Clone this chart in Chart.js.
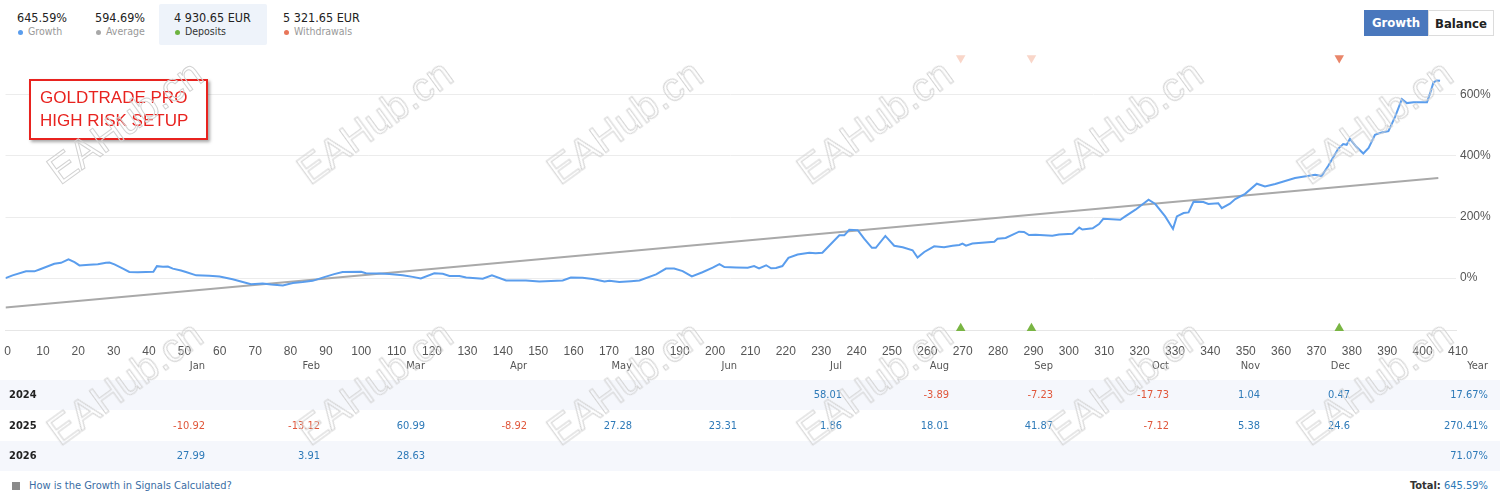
<!DOCTYPE html>
<html>
<head>
<meta charset="utf-8">
<script src="https://cdn.jsdelivr.net/npm/chart.js@4.4.1/dist/chart.umd.min.js"></script>
<style>
  body { margin: 0; background: #fff; width: 1500px; height: 500px; position: relative; overflow: hidden;
         font-family: "DejaVu Sans Condensed", "DejaVu Sans", sans-serif; color: #222; }
  .abs { position: absolute; white-space: nowrap; }
  #chartBox { position: absolute; left: 0; top: 0; width: 1500px; height: 360px; }
  .stat-val { font-size: 12.5px; color: #222; }
  .stat-lbl { font-size: 10.5px; color: #999; }
  .dot { position: absolute; width: 5px; height: 5px; border-radius: 50%; }
  #depBox { left: 159px; top: 4px; width: 108px; height: 41px; background: #eef3fa; border-radius: 2px; }
  .btn { position: absolute; top: 10px; height: 26px; line-height: 26px; text-align: center; font-size: 13px; font-weight: bold; box-sizing: border-box; }
  #tag { left: 29px; top: 79px; width: 179px; height: 61px; box-sizing: border-box; border: 2px solid #e8231f;
         box-shadow: 2px 2px 3px rgba(0,0,0,0.35); background: #fff; color: #e8231f;
         font-family: "Liberation Sans", Arial, sans-serif; font-size: 17px; line-height: 23px; padding: 5px 0 0 9px; }
  .band { position: absolute; left: 0; width: 1500px; height: 30px; }
  .cell { position: absolute; font-size: 11px; line-height: 30px; top: 0; }
  .wm { position: absolute; font-family: "Liberation Sans", Arial, sans-serif; font-size: 40px; color: transparent;
        -webkit-text-stroke: 1px #d2d2d2; transform: translate(-50%, -50%) rotate(-36deg); pointer-events: none; white-space: nowrap; }
</style>
</head>
<body>
<div id="depBox" class="abs"></div>
<div id="stats"></div>
<div class="btn" style="left:1364px;width:64px;background:#4a78bd;color:#fff;">Growth</div>
<div class="btn" style="left:1428px;width:66px;background:#fff;color:#222;border:1px solid #dcdcdc;">Balance</div>

<div id="chartBox"><canvas id="growthChart"></canvas></div>
<div id="tag" class="abs">GOLDTRADE PRO<br>HIGH RISK SETUP</div>

<div id="table"></div>

<div class="abs" style="left:12px;top:482px;width:8px;height:8px;background:#8a8a8a;"></div>
<div class="abs" style="left:29px;top:478px;font-size:11px;line-height:16px;color:#3a6ea5;">How is the Growth in Signals Calculated?</div>
<div class="abs" style="right:12px;top:478px;font-size:11px;line-height:16px;"><b style="color:#333;">Total:</b> <span style="color:#2e7ab8;">645.59%</span></div>

<div id="marks"></div>

<script>
// header figures
const statValues = ['645.59%', '594.69%', '4 930.65 EUR', '5 321.65 EUR'];
const statLabels = ['Growth', 'Average', 'Deposits', 'Withdrawals'];
const statColors = ['#5a9ded', '#a8a8a8', '#6db33f', '#e8765a'];

// growth curve (day index, %)
const growthDays = [0, 2, 5.8, 8.2, 9.6, 13.8, 15.7, 17.8, 19.5, 20.9, 23.7, 26.1, 28.4, 29.4, 30.8, 33.2, 35, 37.4, 39.7, 41.8,
  42.8, 44.5, 45.9, 47.3, 49.6, 51, 53.9, 57.6, 60.5, 64.2, 69.4, 72.7, 75.1, 78.4, 81.2, 84, 86.8, 90.1, 92.9, 95.3,
  100.5, 101.9, 105.7, 108.5, 112.3, 115.1, 117.4, 121.2, 123.6, 125.5, 128.3, 130.2, 134.9, 137.5, 141.5, 147.1, 150.9, 157.5, 159.8, 163.1,
  166, 169.3, 170.7, 173.5, 176.8, 179.2, 183.9, 186.7, 189, 191.4, 194, 197, 199.9, 201.8, 203.2, 206.5, 209.8, 211.6, 213, 215,
  216.4, 217.8, 219.6, 221.3, 223.9, 227.2, 229, 230.9, 235.7, 237.1, 238.5, 240.9, 242.7, 244.9, 246, 248.7, 251.2, 253.6, 256.4, 257.8,
  259.7, 262.5, 265.3, 267.7, 269.6, 270.5, 271.5, 273.3, 279.5, 280.4, 282.7, 286.5, 287.9, 289.3, 291.2, 295.9, 297.8, 301.6, 303.5, 304.4,
  307.3, 309.1, 310.3, 315.1, 316.5, 319.4, 323.1, 325, 327.8, 330, 331.1, 333, 334.4, 335.8, 338.6, 340, 342.8, 343.8, 346.1, 347.6,
  350.4, 353.7, 356, 358.9, 364.5, 370.2, 372, 373.9, 376.7, 378.1, 379.1, 380, 381.9, 383.8, 385.3, 387.1, 389, 390.9, 392.8, 394.7,
  396.1, 398, 401.8, 402.7, 403.6, 404.5, 405.5];
const growthPct = [0, 9, 22, 22, 28, 47, 50, 61, 52, 41.5, 44, 45, 50, 51, 45, 31, 20, 19, 20, 21,
  39, 37, 38, 31, 25, 20, 9, 8, 5.5, -4, -20, -17.5, -21, -24, -16, -13, -9, 3, 13, 20,
  21, 16, 15, 13, 9, 4, -1, 16, 14, 7, 7, 2, -2, 9, -8, -8, -11, -8, 2, 1,
  -3, -11, -9, -13, -10, -8, 12, 31, 31, 23, 5.5, 19, 34, 46, 36, 35, 34, 39.5, 32, 42,
  32, 33, 39.5, 66, 77, 83, 81, 83, 140, 140, 158, 157, 129, 99, 99, 138, 106, 101, 91, 67,
  85.5, 104, 101, 106, 108.5, 113, 106, 113, 119, 129, 131.5, 152, 151, 141, 142, 139, 142.5, 145, 165.5, 159,
  163, 177, 194, 191, 202, 224, 257, 242.5, 202, 161, 202, 213, 215, 250, 249, 242.5, 245, 229, 243.6, 259,
  276, 309, 300, 308, 327.5, 338, 334, 368, 423.5, 439, 436.5, 456, 429, 408, 426, 469, 477, 481, 529, 586,
  573, 576, 576, 605.5, 640, 647, 646];

// average line end points
const averageDays = [0, 405];
const averagePct = [-96, 328];

// deposit / withdrawal markers (day index)
const depositDays = [270, 290, 377];
const withdrawalDays = [270, 290, 377];
const withdrawalColors = ['#f9d6c9', '#f9d6c9', '#e9866a'];

const yTicks = [0, 200, 400, 600];

// monthly table
const months = ['Jan', 'Feb', 'Mar', 'Apr', 'May', 'Jun', 'Jul', 'Aug', 'Sep', 'Oct', 'Nov', 'Dec'];
const years = ['2024', '2025', '2026'];
const monthly2024 = [null, null, null, null, null, null, 58.01, -3.89, -7.23, -17.73, 1.04, 0.47];
const monthly2025 = [-10.92, -13.12, 60.99, -8.92, 27.28, 23.31, 1.86, 18.01, 41.87, -7.12, 5.38, 24.6];
const monthly2026 = [27.99, 3.91, 28.63, null, null, null, null, null, null, null, null, null];
const yearTotals = ['17.67%', '270.41%', '71.07%'];

// header stats
const stats = document.getElementById('stats');
const statLeft = [17, 95, 174, 283];
statValues.forEach((v, i) => {
  stats.insertAdjacentHTML('beforeend',
    `<div class="abs stat-val" style="left:${statLeft[i]}px;top:10px;">${v}</div>` +
    `<div class="dot" style="left:${statLeft[i] + 1}px;top:30px;background:${statColors[i]};"></div>` +
    `<div class="abs stat-lbl" style="left:${statLeft[i] + 11}px;top:25px;${i === 2 ? 'color:#333;' : ''}">${statLabels[i]}</div>`);
});

// table
const table = document.getElementById('table');
const colRight = [205, 320, 425, 527, 632, 737, 842, 949, 1053, 1169, 1260, 1350];
const yearRight = 1488;
let html = `<div class="band" style="top:351px;">`;
months.forEach((m, i) => { html += `<div class="cell" style="right:${1500 - colRight[i]}px;color:#555;">${m}</div>`; });
html += `<div class="cell" style="right:${1500 - yearRight}px;color:#555;">Year</div></div>`;
[monthly2024, monthly2025, monthly2026].forEach((row, r) => {
  html += `<div class="band" style="top:${380 + r * 30.5}px;background:${r % 2 === 0 ? '#f5f7fc' : '#fff'};">`;
  html += `<div class="cell" style="left:9px;font-weight:bold;color:#222;">${years[r]}</div>`;
  row.forEach((v, i) => {
    if (v === null) return;
    html += `<div class="cell" style="right:${1500 - colRight[i]}px;color:${v < 0 ? '#e0573b' : '#2e7ab8'};">${v}</div>`;
  });
  html += `<div class="cell" style="right:${1500 - yearRight}px;color:#2e7ab8;">${yearTotals[r]}</div></div>`;
});
table.innerHTML = html;

// watermark
const marks = document.getElementById('marks');
[122, 383].forEach(cy => {
  [125, 375, 625, 875, 1125, 1375].forEach(cx => {
    marks.insertAdjacentHTML('beforeend', `<div class="wm" style="left:${cx}px;top:${cy}px;">EAHub.cn</div>`);
  });
});

// chart
const ctx = document.getElementById('growthChart').getContext('2d');
new Chart(ctx, {
  type: 'line',
  data: {
    datasets: [
      {
        label: 'Growth',
        data: growthDays.map((d, i) => ({ x: d, y: growthPct[i] })),
        borderColor: '#5a9ded',
        borderWidth: 2,
        pointRadius: 0,
        tension: 0,
        order: 0,
      },
      {
        label: 'Average',
        data: averageDays.map((d, i) => ({ x: d, y: averagePct[i] })),
        borderColor: '#a9a9a9',
        borderWidth: 2,
        pointRadius: 0,
        order: 1,
      },
      {
        type: 'scatter',
        label: 'Deposits',
        data: depositDays.map(d => ({ x: d, y: 0.006 })),
        yAxisID: 'yM',
        pointStyle: 'triangle',
        pointRadius: 5.5,
        backgroundColor: '#79b543',
        borderWidth: 0,
        clip: false,
      },
      {
        type: 'scatter',
        label: 'Withdrawals',
        data: withdrawalDays.map(d => ({ x: d, y: 0.958 })),
        yAxisID: 'yM',
        pointStyle: 'triangle',
        rotation: 180,
        pointRadius: 5.5,
        backgroundColor: withdrawalColors,
        borderWidth: 0,
        clip: false,
      },
    ],
  },
  options: {
    responsive: true,
    maintainAspectRatio: false,
    animation: false,
    layout: { padding: { left: 3, top: 46, right: 0, bottom: 0 } },
    plugins: { legend: { display: false }, tooltip: { enabled: false } },
    scales: {
      x: {
        type: 'linear',
        min: 0,
        max: 410,
        ticks: {
          stepSize: 10,
          autoSkip: false,
          maxRotation: 0,
          color: '#555',
          padding: 6,
          labelOffset: 2,
          font: { family: 'Liberation Sans', size: 12 },
        },
        grid: { display: false },
        border: { color: '#e6e6e6' },
        afterFit: scale => { scale.height = 30; scale.paddingLeft = 0; scale.paddingRight = 0; },
      },
      y: {
        position: 'right',
        min: -170,
        max: 760,
        afterBuildTicks: scale => { scale.ticks = yTicks.map(v => ({ value: v })); },
        ticks: {
          color: '#555',
          padding: 4,
          font: { family: 'Liberation Sans', size: 12 },
          callback: v => v + '%',
        },
        grid: { color: '#ececec', drawTicks: false },
        border: { display: false },
        afterFit: scale => { scale.width = 44; },
      },
      yM: { display: false, min: 0, max: 1 },
    },
  },
});
</script>
</body>
</html>
